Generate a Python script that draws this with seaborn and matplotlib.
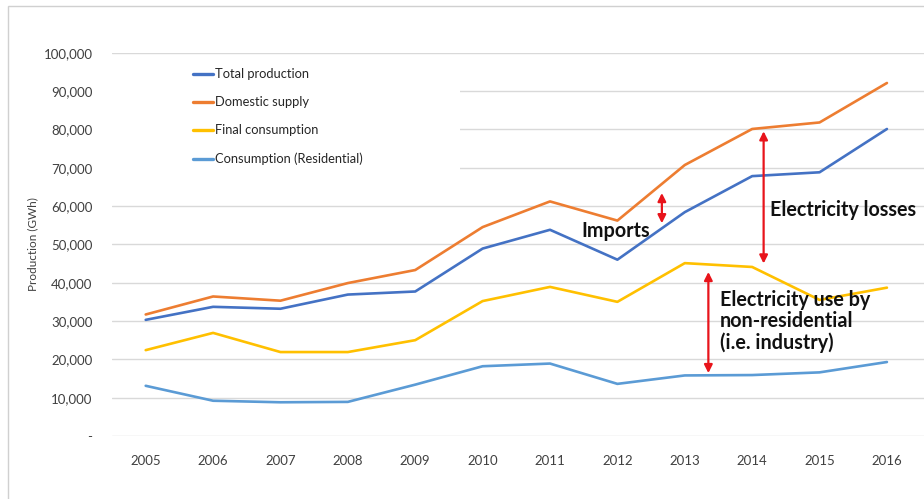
import numpy as np
import pandas as pd
import matplotlib.pyplot as plt
from matplotlib.patches import Rectangle
from matplotlib.ticker import FuncFormatter
import seaborn as sns

# data (GWh)
years = list(range(2005, 2017))
total_production = [30300, 33700, 33200, 36900, 37700, 48900, 53800, 46000, 58400, 67800, 68800, 80100]
domestic_supply = [31700, 36400, 35300, 39900, 43300, 54500, 61200, 56200, 70700, 80100, 81800, 92100]
final_consumption = [22400, 26900, 21900, 21900, 25000, 35200, 38900, 35000, 45100, 44100, 35500, 38700]
residential = [13100, 9200, 8800, 8900, 13400, 18200, 18900, 13600, 15800, 15900, 16600, 19300]

series_names = ["Total production", "Domestic supply", "Final consumption", "Consumption (Residential)"]
colors = ["#4472C4", "#ED7D31", "#FFC000", "#5B9BD5"]

df = pd.DataFrame({
    "year": years * 4,
    "value": total_production + domestic_supply + final_consumption + residential,
    "series": np.repeat(series_names, len(years)),
})

sns.set_style("white")
plt.rcParams["font.family"] = ["Lato", "DejaVu Sans"]

fig = plt.figure(figsize=(9.24, 4.99), dpi=100)
ax = fig.add_axes([112 / 924, 63 / 499, 1 - 112 / 924, (436 - 52.7) / 499])

# outer chart border (left and top edges visible)
fig.patches.append(Rectangle((8 / 924, -0.1), 1.2, (493 / 499) + 0.1, transform=fig.transFigure,
                             fill=False, edgecolor="#d0d0d0", linewidth=1.0))

sns.lineplot(data=df, x="year", y="value", hue="series", hue_order=series_names,
             palette=colors, linewidth=1.9, ax=ax, legend=False, zorder=3)

ax.set_xlim(2004.5, 2016.55)
ax.set_ylim(0, 100000)
ax.set_yticks(np.arange(0, 100001, 10000))
ax.set_xticks(years)
ax.yaxis.set_major_formatter(FuncFormatter(lambda v, p: "-" if v == 0 else f"{int(v):,}"))
ax.grid(axis="y", color="#d9d9d9", linewidth=1.0, zorder=0)
ax.set_axisbelow(True)
for s in ax.spines.values():
    s.set_visible(False)
ax.tick_params(axis="y", length=0, pad=14, labelsize=9.5, labelcolor="#404040")
ax.tick_params(axis="x", length=0, pad=14, labelsize=9.5, labelcolor="#404040")
ax.set_xlabel("")
ax.set_ylabel("Production (GWh)", fontsize=8.5, color="#404040", labelpad=4)

# white legend box that hides the gridlines behind it
ax.add_patch(Rectangle((0.0, 0.64), (460 - 112) / 812, 0.33, transform=ax.transAxes,
                       facecolor="white", edgecolor="none", zorder=2))
handles = [plt.Line2D([], [], color=c, linewidth=2.4) for c in colors]
leg = ax.legend(handles, series_names, loc="upper left", bbox_to_anchor=(0.085, 0.99),
                frameon=False, fontsize=9.3, handlelength=1.6, handletextpad=0.1,
                labelspacing=1.25, labelcolor="#262626")
leg.set_zorder(4)

# red double-headed arrows with notes
arrow = dict(arrowstyle="<|-|>", color="#e8141b", lw=1.6, mutation_scale=12, shrinkA=0, shrinkB=0)
ax.annotate("", xy=(2012.66, 63400), xytext=(2012.66, 55500), arrowprops=arrow, zorder=5)
ax.annotate("", xy=(2014.17, 79500), xytext=(2014.17, 45000), arrowprops=arrow, zorder=5)
ax.annotate("", xy=(2013.35, 42800), xytext=(2013.35, 16400), arrowprops=arrow, zorder=5)

note = dict(fontsize=14.2, fontweight="bold", color="#111111", zorder=6)
ax.text(2011.47, 53500, "Imports", ha="left", va="center", **note)
ax.text(2014.27, 59000, "Electricity losses", ha="left", va="center", **note)
ax.text(2013.52, 38000, "Electricity use by\nnon-residential\n(i.e. industry)", ha="left", va="top",
        linespacing=1.05, **note)

plt.savefig("out.png", dpi=100)
